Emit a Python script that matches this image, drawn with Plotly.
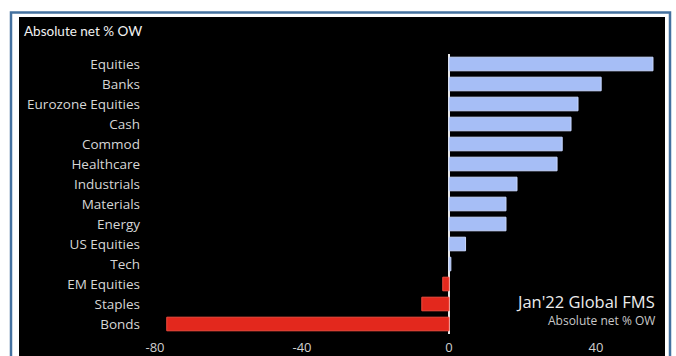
import plotly.graph_objects as go

# Jan'22 Global FMS: absolute net % overweight by asset / sector
categories = ["Equities", "Banks", "Eurozone Equities", "Cash", "Commod", "Healthcare",
              "Industrials", "Materials", "Energy", "US Equities", "Tech", "EM Equities",
              "Staples", "Bonds"]
net_ow = [55.5, 41.4, 35.1, 33.2, 30.8, 29.4, 18.5, 15.5, 15.5, 4.5, 0.5, -1.7, -7.4, -76.8]
x_ticks = [-80, -40, 0, 40]

POS_FILL, POS_EDGE = "#a6bef6", "#c9d8ff"
NEG_FILL, NEG_EDGE = "#e3281d", "#f04a3e"

W, H = 676, 356
L, R, T, B = 150, 16, 54, 22
pw, ph = W - L - R, H - T - B


def px_x(px):
    return (px - L) / pw


def px_y(py):
    return (H - B - py) / ph


fig = go.Figure(go.Bar(
    y=categories,
    x=net_ow,
    orientation="h",
    marker=dict(
        color=[POS_FILL if v >= 0 else NEG_FILL for v in net_ow],
        line=dict(color=[POS_EDGE if v >= 0 else NEG_EDGE for v in net_ow], width=1),
    ),
    width=0.68,
    hoverinfo="skip",
))

fig.update_layout(
    width=W, height=H,
    margin=dict(l=L, r=R, t=T, b=B, pad=0, autoexpand=False),
    paper_bgcolor="white",
    plot_bgcolor="black",
    showlegend=False,
    font=dict(family="Open Sans, Noto Sans, sans-serif", color="#d6d6d6"),
    xaxis=dict(
        range=[-81.36, 57.41],
        tickvals=x_ticks,
        ticktext=[str(v) for v in x_ticks],
        showgrid=False,
        zeroline=True, zerolinecolor="#e6e6e6", zerolinewidth=2,
        showline=False, ticks="",
        tickfont=dict(size=13, color="#d0d0d0"),
        ticklabelstandoff=4,
        automargin=False,
        fixedrange=True,
    ),
    yaxis=dict(
        type="category",
        categoryorder="array", categoryarray=categories,
        autorange="reversed",
        showgrid=False, zeroline=False, showline=False, ticks="",
        tickfont=dict(size=13.5, color="#d6d6d6"),
        ticklabelstandoff=9,
        automargin=False,
        fixedrange=True,
    ),
    shapes=[
        # outer blue frame
        dict(type="rect", xref="paper", yref="paper", layer="below",
             x0=px_x(11), x1=px_x(670), y0=px_y(362), y1=px_y(12.5),
             line=dict(color="#44719f", width=2.5), fillcolor="rgba(0,0,0,0)"),
        # black panel
        dict(type="rect", xref="paper", yref="paper", layer="below",
             x0=px_x(19), x1=px_x(665), y0=px_y(362), y1=px_y(17),
             line=dict(width=0), fillcolor="black"),
    ],
    annotations=[
        dict(text="Absolute net % OW", xref="paper", yref="paper",
             x=px_x(22), y=px_y(31), xanchor="left", yanchor="middle",
             showarrow=False,
             font=dict(family="Lato, sans-serif", size=13.5, color="#f2f2f2")),
        dict(text="Jan'22 Global FMS", xref="paper", yref="paper",
             x=px_x(656), y=px_y(301.5), xanchor="right", yanchor="middle",
             showarrow=False, borderpad=0, font=dict(size=16.5, color="#ececec")),
        dict(text="Absolute net % OW", xref="paper", yref="paper",
             x=px_x(656), y=px_y(320.5), xanchor="right", yanchor="middle",
             showarrow=False, borderpad=0, font=dict(size=12, color="#c8c8c8")),
    ],
)

fig.write_html("out.html")
